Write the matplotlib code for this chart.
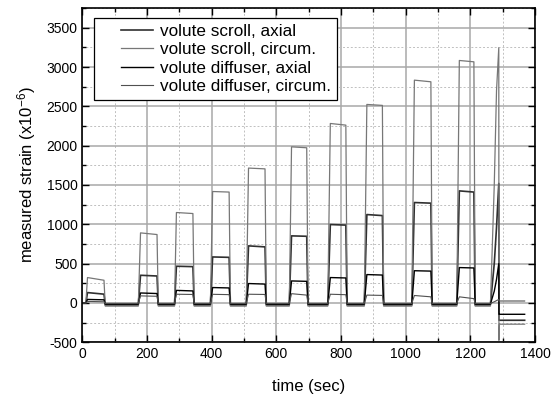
import matplotlib
matplotlib.use('Agg')
import matplotlib.pyplot as plt
import numpy as np
from matplotlib.legend_handler import HandlerLine2D
from matplotlib.ticker import MultipleLocator

# pulse timing (sec): rise start, plateau reached, plateau end, back at baseline
t_on = [11, 173, 285, 396, 507, 640, 759, 872, 1019, 1158]
t_top = [16, 180, 291, 403, 514, 647, 767, 880, 1027, 1166]
t_off = [67, 231, 342, 454, 565, 694, 815, 928, 1078, 1211]
t_low = [71, 235, 346, 458, 569, 698, 819, 932, 1082, 1215]

# plateau values at start / end of each pulse (x10^-6)
scroll_circ_start = [323, 891, 1150, 1417, 1715, 1985, 2282, 2524, 2833, 3083]
scroll_circ_end = [289, 870, 1137, 1410, 1705, 1973, 2261, 2512, 2812, 3066]
scroll_axial_start = [132, 352, 467, 585, 726, 853, 997, 1124, 1277, 1425]
scroll_axial_end = [112, 343, 462, 580, 713, 848, 990, 1111, 1269, 1410]
diff_axial_start = [45, 127, 160, 196, 247, 280, 323, 361, 410, 450]
diff_axial_end = [40, 120, 153, 191, 240, 275, 318, 355, 405, 445]
diff_circ_start = [20, 90, 111, 110, 111, 118, 111, 100, 95, 78]
diff_circ_end = [15, 85, 108, 106, 108, 100, 105, 96, 78, 55]

# baseline between pulses
base = {'sc': -40, 'sa': -25, 'da': -15, 'dc': -5}

# last (shut-down) spike and values after the drop
t_spike = [1262, 1274, 1281, 1288]
spike = {'sc': [-40, 1500, 2700, 3245],
         'sa': [-25, 500, 960, 1520],
         'da': [-15, 150, 300, 500],
         'dc': [-5, 15, 30, 45]}
t_after = [1288.5, 1290, 1368]
after = {'sc': [-475, -270, -270],
         'sa': [-220, -220, -220],
         'da': [-144, -144, -144],
         'dc': [25, 25, 25]}


def build(key, start, end):
    t = [0]
    y = [0]
    for i in range(len(t_on)):
        b = 0 if i == 0 else base[key]
        t += [t_on[i], t_top[i], t_off[i], t_low[i]]
        y += [b, start[i], end[i], base[key]]
    t += t_spike + t_after
    y += spike[key] + after[key]
    return np.array(t), np.array(y)


class ShiftHandler(HandlerLine2D):
    def create_artists(self, legend, orig_handle, xdescent, ydescent,
                       width, height, fontsize, trans):
        shift = 1.2 * fontsize
        return super().create_artists(legend, orig_handle, xdescent - shift,
                                      ydescent, width - shift, height,
                                      fontsize, trans)


plt.rcParams['font.family'] = ['Liberation Sans', 'DejaVu Sans']
plt.rcParams['mathtext.fontset'] = 'custom'
plt.rcParams['mathtext.rm'] = 'Liberation Sans'
plt.rcParams['mathtext.it'] = 'Liberation Sans:italic'
plt.rcParams['axes.unicode_minus'] = False

fig = plt.figure(figsize=(5.57, 3.97), dpi=100)
ax = fig.add_axes([0.1478, 0.1378, 0.8127, 0.8420])

ax.xaxis.set_major_locator(MultipleLocator(200))
ax.xaxis.set_minor_locator(MultipleLocator(100))
ax.yaxis.set_major_locator(MultipleLocator(500))
ax.yaxis.set_minor_locator(MultipleLocator(250))
ax.grid(which='major', color='#a8a8a8', lw=1.1, ls='-')
ax.grid(which='minor', color='#c0c0c0', lw=0.7, ls=(0, (2, 2)))
ax.set_axisbelow(True)

t, y = build('sa', scroll_axial_start, scroll_axial_end)
ax.plot(t, y, color='#303030', lw=1.2, label='volute scroll, axial')
t, y = build('sc', scroll_circ_start, scroll_circ_end)
ax.plot(t, y, color='#777777', lw=0.9, label='volute scroll, circum.')
t, y = build('da', diff_axial_start, diff_axial_end)
ax.plot(t, y, color='#000000', lw=1.0, label='volute diffuser, axial')
t, y = build('dc', diff_circ_start, diff_circ_end)
ax.plot(t, y, color='#505050', lw=0.8, label='volute diffuser, circum.')

ax.set_xlim(0, 1400)
ax.set_ylim(-500, 3750)

ax.tick_params(which='both', direction='in', top=True, right=True,
               labelsize=10, width=1.0, color='black')
ax.tick_params(which='major', length=5)
ax.tick_params(which='minor', length=3)
for s in ax.spines.values():
    s.set_linewidth(1.2)

ax.set_xlabel('time (sec)', fontsize=12, labelpad=13)
ax.set_ylabel('measured strain (x10$^{-6}$)', fontsize=12, labelpad=6)

leg = ax.legend(loc='upper left', bbox_to_anchor=(0.0265, 0.970),
                borderaxespad=0, fontsize=12.3, handlelength=3.1,
                handletextpad=0.4, labelspacing=0.2, borderpad=0.35,
                fancybox=False, framealpha=1, edgecolor='black',
                handler_map={matplotlib.lines.Line2D: ShiftHandler()})
leg.get_frame().set_linewidth(0.9)

fig.savefig('out.png', dpi=100)
